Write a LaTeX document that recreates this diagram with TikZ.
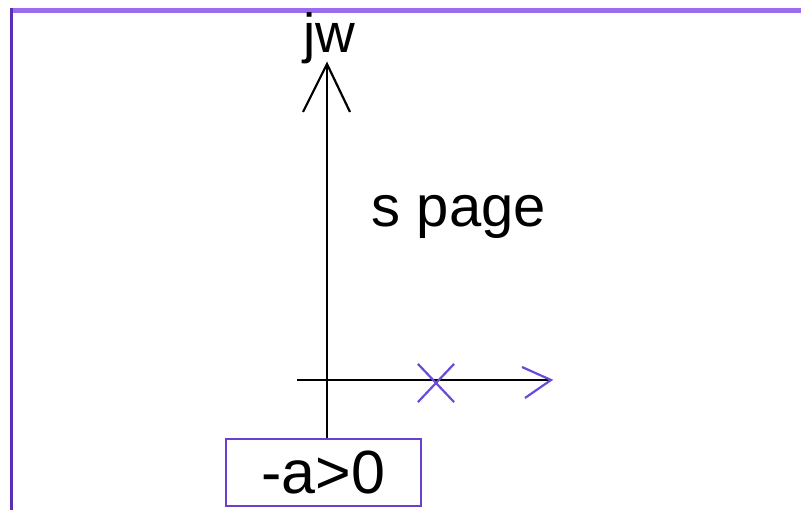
\documentclass[tikz,border=0pt]{standalone}
\usepackage{fontspec}
\setmainfont{Liberation Sans}
\usetikzlibrary{calc,shapes.misc}
\definecolor{topc}{HTML}{9C6CF0}
\definecolor{leftc}{HTML}{5A2FB5}
\definecolor{boxc}{HTML}{6A3FD0}
\definecolor{markc}{HTML}{6A4AD8}
\begin{document}
\begin{tikzpicture}[x=1pt,y=-1pt,
  axis/.style={line width=2.2pt,black},
  tipline/.style={line width=2.2pt,markc},
  lbl/.style={font=\fontsize{58}{60}\selectfont,inner sep=0pt,anchor=base},
  condbox/.style={draw=boxc,line width=2.5pt,minimum width=195pt,minimum height=67pt,inner sep=0pt,font=\fontsize{61}{62}\selectfont},
  polemark/.style={draw=markc,cross out,line width=2.2pt,minimum width=34pt,minimum height=36pt,inner sep=0pt}]
\useasboundingbox (0,0) rectangle (801,510);
\fill[white] (0,0) rectangle (801,510);
\draw[line width=4.5pt,topc] (10,10.3) -- (801,10.3);
\draw[line width=3pt,leftc] (11.3,8) -- (11.3,510);
\node[condbox] (cond) at (323.5,472.5) {-a>0};
\coordinate (vtop) at (327,64);
\coordinate (hl) at (297,380);
\coordinate (hr) at (551,380);
\draw[axis] (cond.north -| vtop) -- (vtop);
\draw[axis] ($(vtop)+(-24,48)$) -- (vtop) -- ($(vtop)+(23,48)$);
\draw[axis] (hl) -- (hr);
\draw[tipline] ($(hr)+(-29,-13)$) -- (hr) -- ($(hr)+(-26,18)$);
\node[polemark] (pole) at (436,383) {};
\node[lbl,font=\fontsize{55}{57}\selectfont] (jw) at (329,53) {jw};
\node[lbl] (spage) at (459,227) {s page};
\end{tikzpicture}
\end{document}
